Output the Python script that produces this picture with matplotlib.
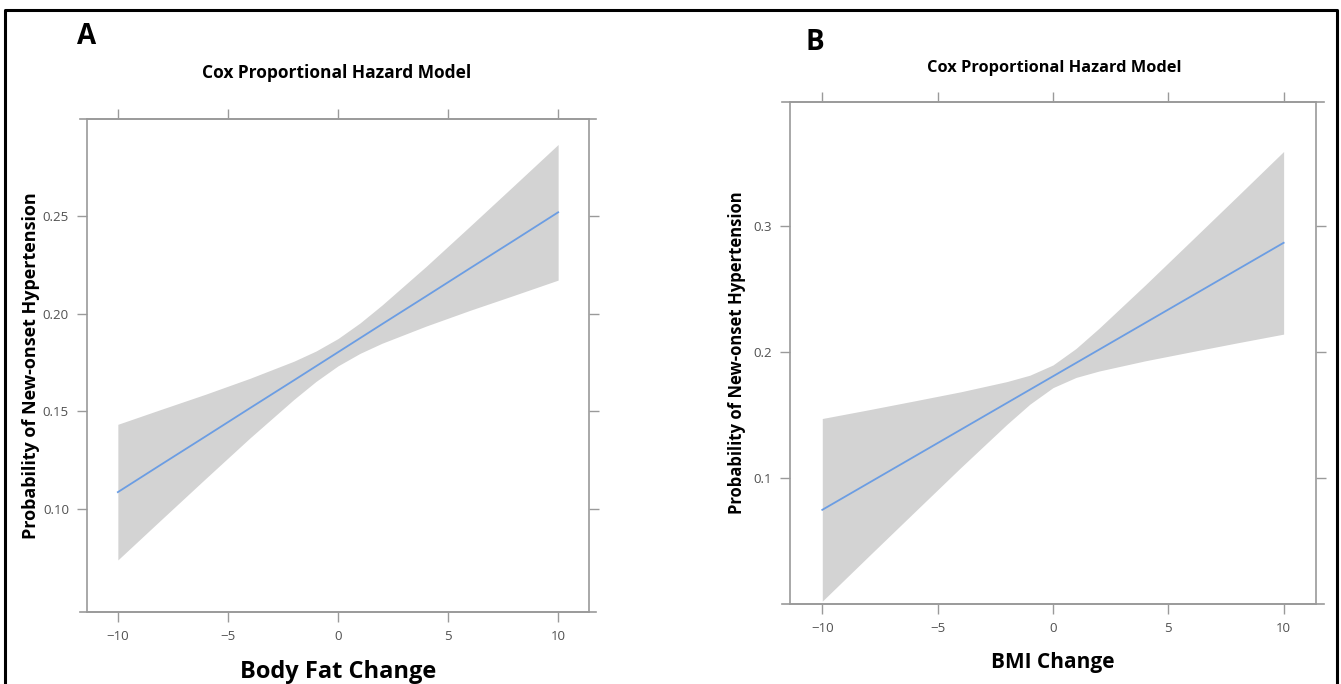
import matplotlib.pyplot as plt
from matplotlib.lines import Line2D

plt.rcParams['font.family'] = ['Open Sans', 'DejaVu Sans']

# data
x_vals = [-10, -8, -6, -4, -2, -1, 0, 1, 2, 4, 6, 8, 10]

# A: body fat change
fat_fit = [0.1085, 0.1229, 0.1372, 0.1516, 0.1659, 0.1731, 0.1803, 0.1875, 0.1947, 0.2090, 0.2234, 0.2377, 0.2521]
fat_upper = [0.1433, 0.1511, 0.1588, 0.1669, 0.1757, 0.1809, 0.1873, 0.1953, 0.2045, 0.2243, 0.2450, 0.2659, 0.2869]
fat_lower = [0.0737, 0.0947, 0.1156, 0.1363, 0.1561, 0.1653, 0.1733, 0.1797, 0.1849, 0.1937, 0.2018, 0.2095, 0.2173]

# B: BMI change
bmi_fit = [0.0750, 0.0962, 0.1174, 0.1386, 0.1598, 0.1704, 0.1810, 0.1916, 0.2022, 0.2234, 0.2446, 0.2658, 0.2870]
bmi_upper = [0.1475, 0.1544, 0.1615, 0.1687, 0.1768, 0.1819, 0.1900, 0.2031, 0.2192, 0.2535, 0.2887, 0.3240, 0.3595]
bmi_lower = [0.0025, 0.0380, 0.0733, 0.1085, 0.1428, 0.1589, 0.1720, 0.1801, 0.1852, 0.1933, 0.2005, 0.2076, 0.2145]

x_ticks = [-10, -5, 0, 5, 10]
fat_yticks = [0.10, 0.15, 0.20, 0.25]
fat_ylabels = ['0.10', '0.15', '0.20', '0.25']
bmi_yticks = [0.1, 0.2, 0.3]
bmi_ylabels = ['0.1', '0.2', '0.3']

title = 'Cox Proportional Hazard Model'
ylab = 'Probability of New-onset Hypertension'

fig = plt.figure(figsize=(13.41, 6.84), dpi=100)

spine_col = '#9a9a9a'
band_col = '#d3d3d3'
line_col = '#6b9de3'


def panel(rect, fit, up, lo, ylim, yticks, ylabels, xlabel, xl_size):
    ax = fig.add_axes(rect)
    ax.fill_between(x_vals, lo, up, color=band_col, linewidth=0)
    ax.plot(x_vals, fit, color=line_col, lw=1.3)
    ax.set_xlim(-11.4, 11.4)
    ax.set_ylim(*ylim)
    ax.set_xticks(x_ticks)
    ax.set_xticklabels(['\u221210', '\u22125', '0', '5', '10'])
    ax.set_yticks(yticks)
    ax.set_yticklabels(ylabels)
    ax.tick_params(direction='out', length=7, width=1, color=spine_col,
                   labelcolor='#505050', labelsize=9.5, top=True, right=True,
                   pad=6)
    for s in ax.spines.values():
        s.set_color(spine_col)
        s.set_linewidth(1.2)
    # little overhang of the frame like lattice
    for yy in (0, 1):
        ax.add_line(Line2D([-0.015, 1.015], [yy, yy], transform=ax.transAxes,
                           color=spine_col, lw=1.2, clip_on=False))
    ax.set_xlabel(xlabel, fontsize=xl_size, fontweight='bold', labelpad=12)
    return ax


axA = panel([0.0649, 0.1053, 0.3743, 0.7208], fat_fit, fat_upper, fat_lower,
            (0.047, 0.300), fat_yticks, fat_ylabels, 'Body Fat Change', 17)
axA.set_ylabel(ylab, fontsize=13, fontweight='bold', labelpad=2)

axB = panel([0.5891, 0.1165, 0.3922, 0.7348], bmi_fit, bmi_upper, bmi_lower,
            (0.0, 0.399), bmi_yticks, bmi_ylabels, 'BMI Change', 15)
axB.set_ylabel(ylab, fontsize=12, fontweight='bold', labelpad=5)

fig.text(337 / 1341, 1 - 73 / 684, title, ha='center', va='center',
         fontsize=12.5, fontweight='bold')
fig.text(1054 / 1341, 1 - 68 / 684, title, ha='center', va='center',
         fontsize=11.8, fontweight='bold')
fig.text(87 / 1341, 1 - 37 / 684, 'A', ha='center', va='center',
         fontsize=20, fontweight='bold')
fig.text(815 / 1341, 1 - 42 / 684, 'B', ha='center', va='center',
         fontsize=20, fontweight='bold')

# black frame around the figure (open at the bottom)
fig.add_artist(Line2D([5 / 1341, 5 / 1341, 1337 / 1341, 1337 / 1341],
                      [0, 1 - 10 / 684, 1 - 10 / 684, 0],
                      transform=fig.transFigure, color='black', lw=2.2))

plt.savefig('out.png', dpi=100)
